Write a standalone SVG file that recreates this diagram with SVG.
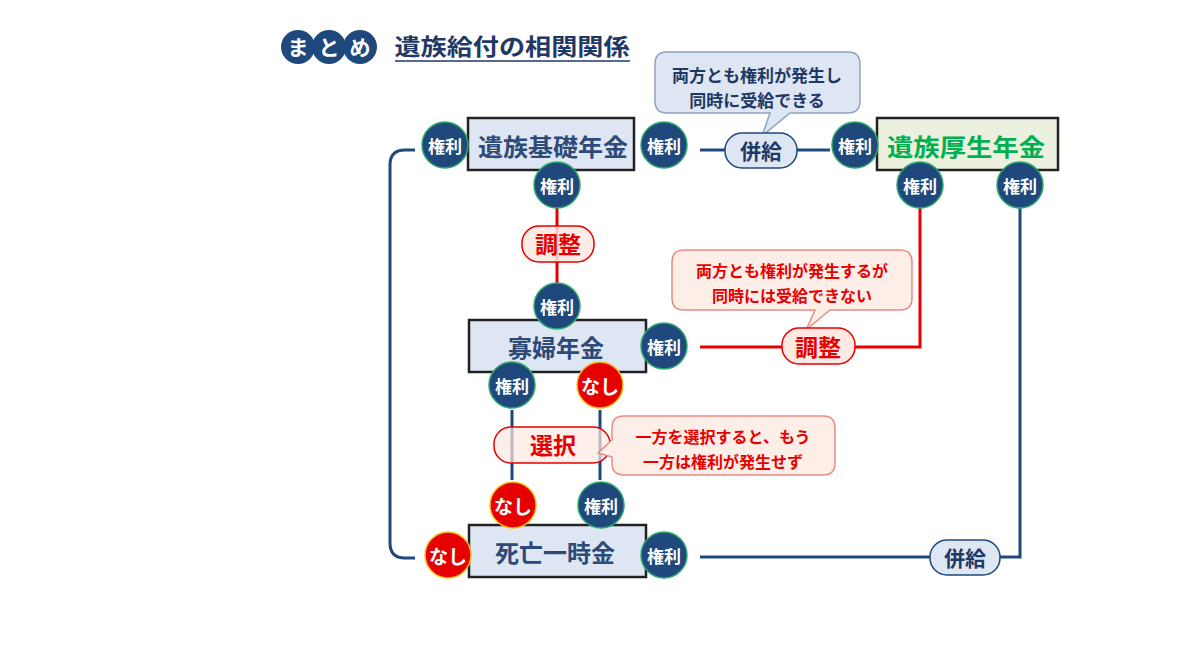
<svg xmlns="http://www.w3.org/2000/svg" width="1190" height="670" viewBox="0 0 1190 670">
<style>
text{font-family:"Noto Sans CJK JP","Noto Sans CJK SC",sans-serif;font-weight:bold;text-anchor:middle;dominant-baseline:central}
.box{fill:#dde6f2;stroke:#222;stroke-width:2.5}
.bt{font-size:24px;fill:#2e4a78}
.k circle{fill:#1f497d;stroke:#2ea86b;stroke-width:1.5}
.k text{font-size:17px;fill:#fff}
.n circle{fill:#e60000;stroke:#f3c21a;stroke-width:1.5}
.n text{font-size:19px;fill:#fff}
.blue{fill:none;stroke:#1f497d;stroke-width:3}
.red{fill:none;stroke:#e60000;stroke-width:3}
.pb{fill:#dde6f2;stroke:#1f497d;stroke-width:1.5}
.pr{fill:#fde8e2;stroke:#e60000;stroke-width:1.5}
.pbt{font-size:21px;fill:#1f3864}
.prt{font-size:23px;fill:#e60000}
.cb{fill:#dde6f2;stroke:#8ea3c2;stroke-width:1.5}
.cr{fill:#fdeee8;stroke:#ec8a80;stroke-width:1.5}
</style>
<g id="title">
<circle cx="298" cy="47" r="17" fill="#1f497d"/><circle cx="329" cy="47" r="17" fill="#1f497d"/><circle cx="360" cy="47" r="17" fill="#1f497d"/>
<text x="298" y="46" font-size="21" fill="#fff">ま</text><text x="329" y="46" font-size="21" fill="#fff">と</text><text x="360" y="46" font-size="21" fill="#fff">め</text>
<text x="512" y="45" font-size="23" fill="#1f3864" textLength="235" lengthAdjust="spacingAndGlyphs">遺族給付の相関関係</text>
<line x1="395" y1="61" x2="630" y2="61" stroke="#1f3864" stroke-width="1.5"/>
</g>
<g id="connectors">
<path class="blue" d="M415,150 H405 Q390,150 390,165 V543 Q390,558 405,558 H415"/>
<line class="blue" x1="700" y1="150" x2="830" y2="150"/>
<path class="blue" d="M700,557 H1020 V208"/>
<line class="red" x1="557" y1="208" x2="557" y2="284"/>
<path class="red" d="M700,347 H920 V208"/>
<line class="blue" x1="512" y1="410" x2="512" y2="480"/>
<line class="blue" x1="600" y1="410" x2="600" y2="480"/>
</g>
<g id="callout1">
<path class="cb" d="M667,52 H848 Q860,52 860,64 V101 Q860,113 848,113 H790 L762,136 L770,113 H667 Q655,113 655,101 V64 Q655,52 667,52 Z"/>
<text x="757" y="74" font-size="17" fill="#1f3864">両方とも権利が発生し</text>
<text x="757" y="99" font-size="17" fill="#1f3864">同時に受給できる</text>
</g>
<g id="heikyu1"><rect class="pb" x="725" y="133" width="72" height="35" rx="17"/><text class="pbt" x="761" y="150">併給</text></g>
<g id="kiso"><rect class="box" x="468" y="118" width="166" height="52"/><text class="bt" x="553" y="145" textLength="150" lengthAdjust="spacingAndGlyphs">遺族基礎年金</text></g>
<g id="kosei"><rect class="box" style="fill:#ebf1de" x="877" y="118" width="181" height="52"/><text class="bt" style="fill:#00b050" x="966" y="145" textLength="158" lengthAdjust="spacingAndGlyphs">遺族厚生年金</text></g>
<g id="kafu"><rect class="box" x="469" y="320" width="177" height="52"/><text class="bt" x="556" y="346">寡婦年金</text></g>
<g id="shibo"><rect class="box" x="469" y="525" width="177" height="52"/><text class="bt" x="555" y="551">死亡一時金</text></g>
<g id="chosei1"><rect class="pr" x="522" y="226" width="72" height="36" rx="17" style="fill-opacity:.85"/><text class="prt" x="558" y="243">調整</text></g>
<g id="callout2">
<path class="cr" d="M684,250 H900 Q912,250 912,262 V298 Q912,310 900,310 H830 L806,330 L815,310 H684 Q672,310 672,298 V262 Q672,250 684,250 Z"/>
<text x="792" y="270" font-size="16" fill="#e60000">両方とも権利が発生するが</text>
<text x="792" y="295" font-size="16" fill="#e60000">同時には受給できない</text>
</g>
<g id="chosei2"><rect class="pr" x="782" y="328" width="73" height="36" rx="17"/><text class="prt" x="818" y="346">調整</text></g>
<g id="sentaku"><rect class="pr" x="494" y="427" width="116" height="36" rx="17" style="fill-opacity:.7"/><text class="prt" x="553" y="444">選択</text></g>
<g id="callout3">
<path class="cr" d="M624,416 H823 Q835,416 835,428 V463 Q835,475 823,475 H624 Q612,475 612,463 V457 L598,453 L612,440 V428 Q612,416 624,416 Z"/>
<text x="723" y="436" font-size="16" fill="#e60000">一方を選択すると、もう</text>
<text x="723" y="461" font-size="16" fill="#e60000">一方は権利が発生せず</text>
</g>
<g id="heikyu2"><rect class="pb" x="930" y="540" width="70" height="35" rx="17"/><text class="pbt" x="965" y="557">併給</text></g>
<g id="k1" class="k"><circle cx="445" cy="145" r="23"/><text x="445" y="145">権利</text></g>
<g id="k2" class="k"><circle cx="664" cy="145" r="23"/><text x="664" y="145">権利</text></g>
<g id="k3" class="k"><circle cx="557" cy="185" r="23"/><text x="557" y="185">権利</text></g>
<g id="k4" class="k"><circle cx="855" cy="145" r="23"/><text x="855" y="145">権利</text></g>
<g id="k5" class="k"><circle cx="920" cy="185" r="23"/><text x="920" y="185">権利</text></g>
<g id="k6" class="k"><circle cx="1020" cy="185" r="23"/><text x="1020" y="185">権利</text></g>
<g id="k7" class="k"><circle cx="557" cy="306" r="23"/><text x="557" y="306">権利</text></g>
<g id="k8" class="k"><circle cx="664" cy="346" r="23"/><text x="664" y="346">権利</text></g>
<g id="k9" class="k"><circle cx="512" cy="385" r="23"/><text x="512" y="385">権利</text></g>
<g id="n1" class="n"><circle cx="600" cy="385" r="23"/><text x="600" y="385">なし</text></g>
<g id="n2" class="n"><circle cx="513" cy="505" r="23"/><text x="513" y="505">なし</text></g>
<g id="k10" class="k"><circle cx="601" cy="505" r="23"/><text x="601" y="505">権利</text></g>
<g id="n3" class="n"><circle cx="448" cy="555" r="23"/><text x="448" y="555">なし</text></g>
<g id="k11" class="k"><circle cx="664" cy="555" r="23"/><text x="664" y="555">権利</text></g>
</svg>
